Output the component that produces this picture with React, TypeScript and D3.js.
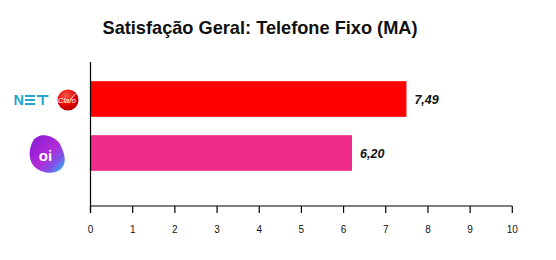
import React from "react";
import * as d3 from "d3";

const providers = ["NET/Claro", "Oi"];
const scores = [7.49, 6.2];
const barColors = ["#ff0000", "#ee2a8a"];
const scoreLabels = ["7,49", "6,20"];
const xTicks = [0, 1, 2, 3, 4, 5, 6, 7, 8, 9, 10];
const title = "Satisfação Geral: Telefone Fixo (MA)";

const W = 556;
const H = 260;
const x0 = 90.5;
const x1 = 512.3;
const baseY = 206;
const axisTop = 62;

export default function App() {
  const x = d3.scaleLinear().domain([0, 10]).range([x0, x1]);
  const y = d3
    .scaleBand<string>()
    .domain(providers)
    .range([72, 180])
    .paddingInner(0.34)
    .paddingOuter(0.17);
  const bw = y.bandwidth();

  const netY = (y(providers[0]) as number) + bw / 2 + 1;
  const oiY = (y(providers[1]) as number) + bw / 2;

  return (
    <svg
      width={W}
      height={H}
      style={{ position: "absolute", left: 0, top: 0, background: "#fff" }}
      fontFamily="'Liberation Sans', Arial, sans-serif"
    >
      <defs>
        <radialGradient id="claroGrad" cx="0.4" cy="0.3" r="0.8">
          <stop offset="0" stopColor="#ff5a4a" />
          <stop offset="0.6" stopColor="#e00000" />
          <stop offset="1" stopColor="#a00000" />
        </radialGradient>
        <linearGradient id="oiGrad" x1="0.1" y1="0.1" x2="0.95" y2="0.9">
          <stop offset="0" stopColor="#8e1cd8" />
          <stop offset="0.5" stopColor="#b12ad6" />
          <stop offset="0.8" stopColor="#7a5ae8" />
          <stop offset="1" stopColor="#33b0f2" />
        </linearGradient>
      </defs>

      <text
        x={260}
        y={34.3}
        textAnchor="middle"
        fontSize={18.2}
        fontWeight="bold"
        fill="#111"
      >
        {title}
      </text>

      {providers.map((p, i) => (
        <rect
          key={p}
          x={x(0)}
          y={y(p)}
          width={x(scores[i]) - x(0)}
          height={bw}
          fill={barColors[i]}
        />
      ))}

      {providers.map((p, i) => (
        <text
          key={p + "-lbl"}
          x={x(scores[i]) + 8}
          y={(y(p) as number) + bw / 2 + 4.5}
          fontSize={12.5}
          fontWeight="bold"
          fontStyle="italic"
          fill="#111"
        >
          {scoreLabels[i]}
        </text>
      ))}

      {/* axes */}
      <line x1={x0} x2={x0} y1={axisTop} y2={baseY + 7} stroke="#000" strokeWidth={1.2} />
      <line x1={x0} x2={x1} y1={baseY} y2={baseY} stroke="#000" strokeWidth={1.2} />
      {xTicks.map((t) => (
        <g key={t}>
          <line x1={x(t)} x2={x(t)} y1={baseY} y2={baseY + 7} stroke="#000" strokeWidth={1.2} />
          <text x={x(t)} y={233} textAnchor="middle" fontSize={10} fill="#111">
            {t}
          </text>
        </g>
      ))}

      {/* NET | Claro logo */}
      <g>
        <text x={13.5} y={netY + 5.2} fontSize={14.5} fontWeight="bold" fill="#22a6cf">
          N
        </text>
        <g fill="#22a6cf">
          <rect x={25} y={netY - 5} width={10} height={2} />
          <rect x={25} y={netY - 1} width={10} height={2} />
          <rect x={25} y={netY + 3} width={10} height={2} />
        </g>
        <g fill="#22a6cf">
          <rect x={37} y={netY - 5} width={11.5} height={2} />
          <rect x={41.7} y={netY - 5} width={2.1} height={10} />
        </g>
        <circle cx={68} cy={netY} r={10.5} fill="url(#claroGrad)" />
        <text x={67} y={netY + 2.8} textAnchor="middle" fontSize={7.5} fill="#fff" fontStyle="italic">
          Claro
        </text>
        <path
          d={`M ${71} ${netY - 1} L ${75} ${netY - 6}`}
          stroke="#fff"
          strokeWidth={0.9}
          fill="none"
        />
      </g>

      {/* Oi logo */}
      <g>
        <path
          d={`M ${33} ${oiY - 12}
              C ${39} ${oiY - 22}, ${56} ${oiY - 18}, ${61} ${oiY - 7}
              C ${66} ${oiY + 4}, ${67} ${oiY + 13}, ${58} ${oiY + 18}
              C ${50} ${oiY + 22}, ${38} ${oiY + 19}, ${33} ${oiY + 12}
              C ${28} ${oiY + 5}, ${29} ${oiY - 5}, ${33} ${oiY - 12} Z`}
          fill="url(#oiGrad)"
        />
        <text x={45.5} y={oiY + 7.5} textAnchor="middle" fontSize={15} fontWeight="bold" fill="#fff">
          oi
        </text>
      </g>
    </svg>
  );
}
